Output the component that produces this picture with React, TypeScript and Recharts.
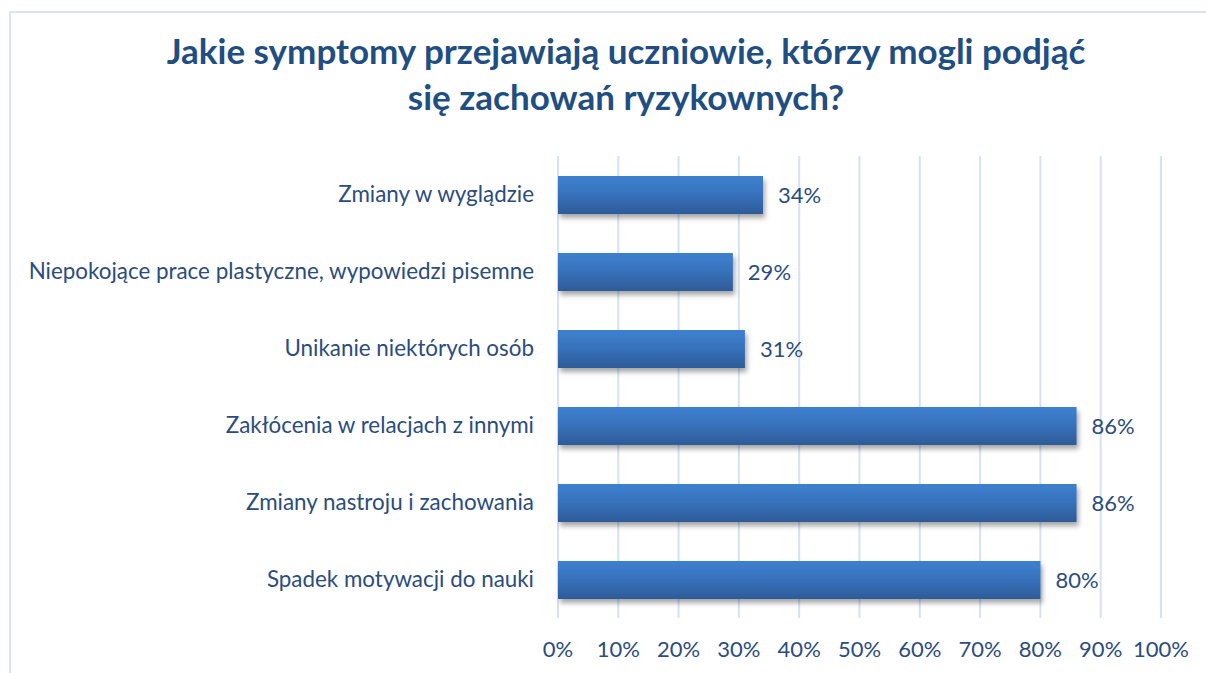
import { BarChart, Bar, XAxis, YAxis, CartesianGrid, LabelList } from 'recharts';

const categories = [
    'Zmiany w wyglądzie',
    'Niepokojące prace plastyczne, wypowiedzi pisemne',
    'Unikanie niektórych osób',
    'Zakłócenia w relacjach z innymi',
    'Zmiany nastroju i zachowania',
    'Spadek motywacji do nauki',
];

const percents = [34, 29, 31, 86, 86, 80];

const xTicks = [0, 10, 20, 30, 40, 50, 60, 70, 80, 90, 100];

const titleLines = [
    'Jakie symptomy przejawiają uczniowie, którzy mogli podjąć',
    'się zachowań ryzykownych?',
];

const TEXT = '#2B4C7E';
const FONT = 'Lato, "Open Sans", sans-serif';

export default function App() {
    const data = categories.map((name, i) => ({ name, value: percents[i] }));

    return (
        <div style={{ position: 'absolute', left: 0, top: 0, width: 1206, height: 673, background: '#fff', overflow: 'hidden', fontFamily: FONT }}>
            {/* frame */}
            <div style={{ position: 'absolute', left: 9, top: 11, width: 1300, height: 800, borderLeft: '2px solid #DCE5F3', borderTop: '2px solid #DCE5F3' }} />
            <div style={{ position: 'absolute', left: 0, top: 27, width: 1252, textAlign: 'center', color: '#1F4E82', fontWeight: 700, fontSize: 35, lineHeight: '46px' }}>
                {titleLines.map((t) => (
                    <div key={t}>{t}</div>
                ))}
            </div>
            <div style={{ position: 'absolute', left: 0, top: 0 }}>
                <BarChart
                    width={1206}
                    height={673}
                    data={data}
                    layout="vertical"
                    margin={{ top: 156, right: 45, bottom: 25, left: 0 }}
                    barSize={38}
                >
                    <defs>
                        <linearGradient id="barFill" x1="0" y1="0" x2="0" y2="1">
                            <stop offset="0%" stopColor="#3E80D0" />
                            <stop offset="45%" stopColor="#3873BD" />
                            <stop offset="100%" stopColor="#2D5B98" />
                        </linearGradient>
                        <filter id="barShadow" x="-5%" y="-20%" width="115%" height="160%">
                            <feDropShadow dx="2" dy="4" stdDeviation="2.5" floodColor="#000" floodOpacity="0.35" />
                        </filter>
                    </defs>
                    <CartesianGrid horizontal={false} stroke="#D6E2F3" strokeWidth={2} />
                    <XAxis
                        type="number"
                        domain={[0, 100]}
                        ticks={xTicks}
                        tickFormatter={(v: number) => `${v}%`}
                        axisLine={false}
                        tickLine={false}
                        tickSize={0}
                        tickMargin={23}
                        tick={{ fill: TEXT, fontSize: 22, fontFamily: FONT }}
                        interval={0}
                    />
                    <YAxis
                        type="category"
                        dataKey="name"
                        width={558}
                        axisLine={false}
                        tickLine={false}
                        tickSize={0}
                        tickMargin={24}
                        tick={{ fill: TEXT, fontSize: 22.4, fontFamily: FONT }}
                        interval={0}
                    />
                    <Bar dataKey="value" fill="url(#barFill)" filter="url(#barShadow)" isAnimationActive={false}>
                        <LabelList
                            dataKey="value"
                            position="right"
                            offset={15}
                            formatter={(v: number) => `${v}%`}
                            style={{ fill: TEXT, fontSize: 22, fontFamily: FONT }}
                        />
                    </Bar>
                </BarChart>
            </div>
        </div>
    );
}
